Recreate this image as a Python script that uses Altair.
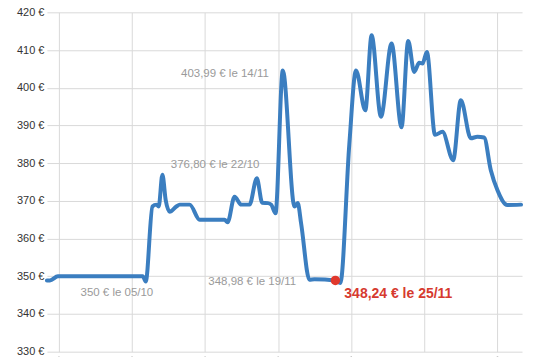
import altair as alt
import pandas as pd

# price series (x = day offset, y = price in euros)
days = [-2.3, -1.73, -0.20, 16.05, 16.63, 17.91, 18.67, 19.11, 19.82, 20.45, 21.21,
        22.49, 23.13, 25.04, 26.95, 31.73, 32.30, 33.64, 34.92, 36.51, 37.90, 38.94,
        40.01, 40.66, 41.48, 42.88, 45.12, 45.74, 46.39, 47.98, 48.93, 52.95, 53.90,
        55.62, 56.90, 58.68, 59.89, 61.68, 63.71, 65.62, 66.90, 68.05, 69.01, 69.64,
        70.48, 72.03, 73.46, 75.51, 76.98, 78.89, 80.15, 81.43, 82.71, 83.98, 85.89, 88.51]
prices = [348.9, 348.9, 350.0, 350.0, 348.6, 368.5, 369.0, 368.5, 376.9, 370.2, 367.1,
          368.5, 369.0, 369.0, 365.0, 365.0, 364.3, 371.1, 369.0, 369.0, 376.0, 369.5,
          369.4, 369.0, 366.7, 404.6, 368.5, 369.4, 364.0, 349.1, 349.2, 348.9, 348.2,
          385.0, 404.6, 394.0, 413.9, 392.3, 411.7, 389.5, 412.4, 404.2, 406.6, 406.4,
          409.5, 387.5, 388.3, 380.8, 396.7, 386.6, 387.0, 386.8, 378.2, 372.9, 368.9, 369.0]

y_ticks = [330, 340, 350, 360, 370, 380, 390, 400, 410, 420]
x_grid = [0, 14, 28, 42, 56, 70, 84]
x_marks = [0, 14, 28, 42, 56, 84]

# annotations
left_notes_x = [4.14]
left_notes_y = [345.6]
left_notes_t = ["350 € le 05/10"]
right_notes_x = [38.42, 40.20, 45.43]
right_notes_y = [379.5, 403.6, 348.45]
right_notes_t = ["376,80 € le 22/10", "403,99 € le 14/11", "348,98 € le 19/11"]
min_x = [52.95]
min_y = [348.9]
min_label_x = [54.67]
min_label_y = [345.2]
min_label_t = ["348,24 € le 25/11"]

line_df = pd.DataFrame({"d": days, "p": prices})
xs = alt.Scale(domain=[-2.3, 88.7], nice=False, zero=False)
ys = alt.Scale(domain=[330, 420], nice=False, zero=False)

x_axis = alt.Axis(values=x_grid, grid=True, gridColor="#d9d9d9", gridWidth=1,
                  labels=False, ticks=False, domain=False, title=None)
y_axis = alt.Axis(values=y_ticks, grid=True, gridColor="#d9d9d9", gridWidth=1,
                  labelExpr="datum.value + ' €'", labelFont="Liberation Sans",
                  labelFontSize=11, labelColor="#333333", labelPadding=3,
                  labelOverlap=False, labelBound=False, labelFlush=False,
                  ticks=False, domain=False, title=None)

X = lambda: alt.X("d:Q", scale=xs, axis=x_axis)
Y = lambda: alt.Y("p:Q", scale=ys, axis=y_axis)

line = alt.Chart(line_df).mark_line(
    color="#3b7ec0", strokeWidth=4, interpolate="monotone", strokeCap="round", strokeJoin="round"
).encode(x=X(), y=Y())

marks = alt.Chart(pd.DataFrame({"d": x_marks})).mark_rule(color="#666666", strokeWidth=1.5).encode(
    x=X(), y=alt.value(345), y2=alt.value(352)
)

left_txt = alt.Chart(pd.DataFrame({"d": left_notes_x, "p": left_notes_y, "t": left_notes_t})).mark_text(
    align="left", baseline="middle", font="Liberation Sans", fontSize=11.5, color="#9a9a9a"
).encode(x=X(), y=Y(), text="t:N")

right_txt = alt.Chart(pd.DataFrame({"d": right_notes_x, "p": right_notes_y, "t": right_notes_t})).mark_text(
    align="right", baseline="middle", font="Liberation Sans", fontSize=11.5, color="#9a9a9a"
).encode(x=X(), y=Y(), text="t:N")

dot = alt.Chart(pd.DataFrame({"d": min_x, "p": min_y})).mark_circle(
    color="#e0382c", size=90, opacity=1
).encode(x=X(), y=Y())

red_txt = alt.Chart(pd.DataFrame({"d": min_label_x, "p": min_label_y, "t": min_label_t})).mark_text(
    align="left", baseline="middle", font="Liberation Sans", fontSize=14, fontWeight="bold",
    color="#d63a2f"
).encode(x=X(), y=Y(), text="t:N")

chart = alt.layer(line, marks, left_txt, right_txt, dot, red_txt).properties(
    width=476, height=340,
    autosize=alt.AutoSizeParams(type="none"),
    padding={"left": 39, "top": 4, "right": 10, "bottom": 5},
    background="white",
).configure_view(stroke=None)

chart.save("out.html", embed_options={"renderer": "svg", "actions": False})
